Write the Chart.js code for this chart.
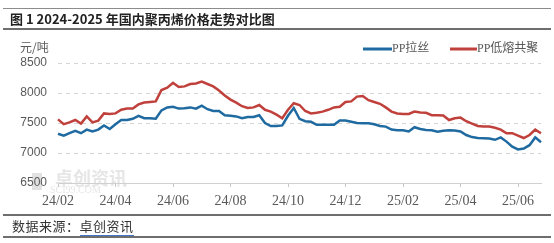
<!DOCTYPE html>
<html>
<head>
<meta charset="utf-8">
<script src="https://cdn.jsdelivr.net/npm/chart.js@4"></script>
<style>
  html, body { margin: 0; padding: 0; background: #fff; }
  #wrap { position: relative; width: 554px; height: 243px; overflow: hidden; }
  #chart { position: absolute; left: 0; top: 0; }
  .rule { position: absolute; left: 3px; width: 548px; background: #6e6e6e; }
  #title { position: absolute; left: 10px; top: 10px; font: bold 13px "Noto Sans CJK SC", sans-serif; color: #222; line-height: 18px; white-space: nowrap; }
  #unit { position: absolute; left: 20px; top: 39px; font: 12px "Noto Sans CJK SC", sans-serif; color: #595959; line-height: 16px; }
  #source { position: absolute; left: 12px; top: 218px; font: 13px "Noto Sans CJK SC", sans-serif; color: #333; line-height: 16px; letter-spacing: 0.5px; white-space: nowrap; }
  #source span { border-bottom: 1px solid #4472c4; }
</style>
</head>
<body>
<div id="wrap">
  <canvas id="chart" width="554" height="243"></canvas>
  <div class="rule" style="top:8px;height:1px;background:#8c8c8c"></div>
  <div id="title">图 1 2024-2025 年国内聚丙烯价格走势对比图</div>
  <div class="rule" style="top:28px;height:2px"></div>
  <div id="unit">元/吨</div>
  <div class="rule" style="top:214px;height:2px"></div>
  <div id="source">数据来源：<span>卓创资讯</span></div>
  <div class="rule" style="top:236px;height:2px"></div>
</div>
<script>
// x axis labels shown every 10 points
const tickLabels = ['24/02', '24/04', '24/06', '24/08', '24/10', '24/12', '25/02', '25/04', '25/06'];
const pointsPerTick = 10;
const seriesNames = ['PP拉丝', 'PP低熔共聚'];
const seriesColors = ['#1f6aa0', '#c0403c'];

const ppDrawn = [
  7320, 7290, 7330, 7370, 7330, 7390, 7360, 7390, 7460, 7400,
  7480, 7550, 7550, 7570, 7620, 7580, 7580, 7570, 7710, 7760,
  7770, 7740, 7745, 7760, 7740, 7790, 7730, 7700, 7700, 7630,
  7620, 7610, 7580, 7600, 7600, 7630, 7500, 7450, 7450, 7460,
  7620, 7750, 7570, 7530, 7520, 7470, 7470, 7470, 7470, 7540,
  7540, 7520, 7500, 7495, 7495, 7480, 7450, 7440, 7390, 7380,
  7380, 7360, 7430, 7400, 7385, 7380, 7355, 7370, 7380, 7375,
  7360, 7300, 7265, 7250, 7245, 7240, 7220, 7260, 7190, 7105,
  7060, 7075, 7130, 7260, 7180
];
const ppCopolymer = [
  7560, 7480, 7510, 7550, 7490, 7610, 7510, 7540, 7660, 7650,
  7660, 7720, 7740, 7740, 7810, 7840, 7850, 7860, 8050, 8090,
  8170, 8100, 8110, 8150, 8160, 8190, 8150, 8110, 8040, 7960,
  7890, 7840, 7780, 7750, 7760, 7800, 7720, 7690, 7640, 7580,
  7720, 7830, 7800, 7700, 7660, 7670, 7690, 7720, 7760, 7770,
  7850, 7860, 7940, 7950, 7880, 7850, 7820, 7760, 7690, 7660,
  7650, 7650, 7690, 7675, 7670, 7630, 7630, 7625, 7550, 7580,
  7590, 7530, 7490, 7450, 7440, 7440, 7420, 7390, 7330, 7330,
  7290, 7250, 7300, 7390, 7330
];
const yMin = 6500, yMax = 8500, yStep = 500;

const categories = ppDrawn.map((v, i) => (i % pointsPerTick === 0 ? tickLabels[i / pointsPerTick] : ''));

// legend + watermark drawn by hand
const extras = {
  id: 'extras',
  beforeDraw(chart) {
    const ctx = chart.ctx;
    ctx.save();
    ctx.fillStyle = '#e2e2e2';
    ctx.fillRect(32, 173, 10, 17);
    ctx.fillStyle = '#e6e6e6';
    ctx.font = 'bold 18px "Noto Sans CJK SC"';
    ctx.textBaseline = 'middle';
    ctx.fillText('卓创资讯', 55, 178);
    ctx.font = '10px "Liberation Serif"';
    ctx.fillText('SCI99.COM', 50, 190);
    ctx.restore();
  },
  afterDraw(chart) {
    const ctx = chart.ctx;
    const items = [{ x0: 363, x1: 392 }, { x0: 450, x1: 477 }];
    ctx.save();
    ctx.font = '12px "Liberation Serif", "Noto Sans CJK SC"';
    ctx.textBaseline = 'middle';
    chart.data.datasets.forEach((ds, i) => {
      const it = items[i];
      ctx.strokeStyle = ds.borderColor;
      ctx.lineWidth = 3;
      ctx.beginPath();
      ctx.moveTo(it.x0, 49);
      ctx.lineTo(it.x1, 49);
      ctx.stroke();
      ctx.fillStyle = '#595959';
      ctx.fillText(ds.label, it.x1, 49);
    });
    ctx.restore();
  }
};

new Chart(document.getElementById('chart').getContext('2d'), {
  type: 'line',
  data: {
    labels: categories,
    datasets: [
      { label: seriesNames[0], data: ppDrawn, borderColor: seriesColors[0], borderWidth: 2.5, pointRadius: 0, tension: 0 },
      { label: seriesNames[1], data: ppCopolymer, borderColor: seriesColors[1], borderWidth: 2.5, pointRadius: 0, tension: 0 }
    ]
  },
  options: {
    responsive: false,
    animation: false,
    layout: { padding: { top: 63, right: 13, bottom: 0, left: 0 } },
    plugins: { legend: { display: false }, tooltip: { enabled: false } },
    scales: {
      x: {
        afterFit: (s) => { s.height = 60; },
        grid: {
          drawOnChartArea: false,
          drawTicks: true,
          tickLength: 4,
          tickColor: (c) => (c.index % pointsPerTick === 0 ? '#c8c8c8' : 'transparent')
        },
        border: { display: true, color: '#d0d0d0', width: 1 },
        ticks: {
          autoSkip: false,
          maxRotation: 0,
          padding: 6,
          color: '#595959',
          font: { family: 'Liberation Serif', size: 14 }
        }
      },
      y: {
        min: yMin,
        max: yMax,
        afterFit: (s) => { s.width = 58; },
        grid: {
          drawTicks: false,
          color: (c) => (c.tick && c.tick.value === yMin ? 'transparent' : '#d4d4d4')
        },
        border: { display: false, dash: [4, 4] },
        ticks: {
          stepSize: yStep,
          padding: 11,
          color: '#595959',
          font: { family: 'Liberation Sans', size: 12 },
          callback: (v) => String(v)
        }
      }
    }
  },
  plugins: [extras]
});
</script>
</body>
</html>
